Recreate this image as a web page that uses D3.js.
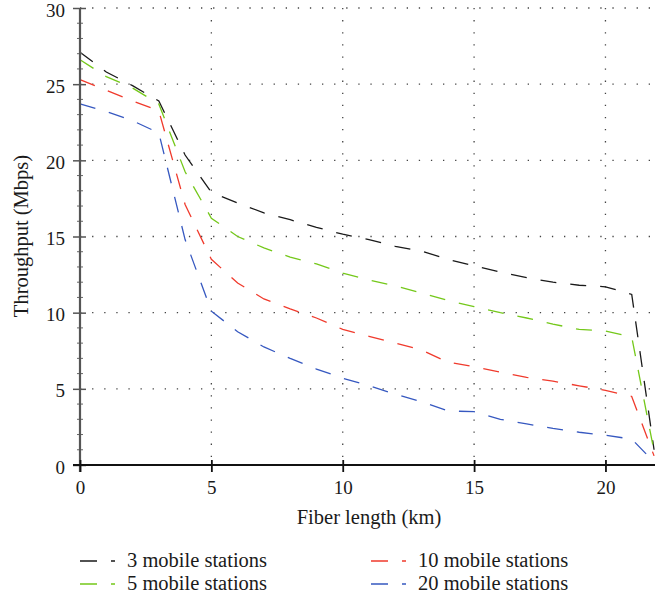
<!DOCTYPE html>
<html>
<head>
<meta charset="utf-8">
<script src="https://cdn.jsdelivr.net/npm/d3@7/dist/d3.min.js"></script>
<style>
  html, body { margin: 0; padding: 0; background: #fff; }
  svg { display: block; }
  text { font-family: "Liberation Serif", "DejaVu Serif", serif; fill: #1a1a1a; }
</style>
</head>
<body>
<svg id="chart" width="655" height="601"></svg>
<script>
// ---- data ----
const fiberKm = [0,1,2,3,4,5,6,7,8,9,10,11,12,13,14,15,16,17,18,19,20,21,21.85];
const seriesNames = ["3 mobile stations", "5 mobile stations", "10 mobile stations", "20 mobile stations"];
const seriesColors = ["#1a1a1a", "#74c81a", "#f03a2c", "#3658c0"];
const ms3  = [27.1, 25.8, 24.9, 23.9, 20.35, 17.9, 17.2, 16.55, 16.1, 15.6, 15.15, 14.8, 14.35, 14.05, 13.5, 13.07, 12.67, 12.3, 12.0, 11.8, 11.7, 11.2, 1.0];
const ms5  = [26.6, 25.5, 24.75, 23.7, 19.25, 16.2, 15.0, 14.25, 13.65, 13.2, 12.6, 12.15, 11.75, 11.3, 10.8, 10.4, 10.0, 9.65, 9.25, 8.9, 8.8, 8.4, 0.9];
const ms10 = [25.3, 24.6, 23.9, 23.25, 17.1, 13.5, 11.95, 10.9, 10.25, 9.65, 8.9, 8.45, 8.0, 7.55, 6.75, 6.45, 6.1, 5.75, 5.5, 5.2, 4.9, 4.5, 0.6];
const ms20 = [23.7, 23.2, 22.6, 21.8, 14.8, 10.1, 8.75, 7.75, 7.0, 6.3, 5.7, 5.2, 4.65, 4.15, 3.55, 3.5, 3.0, 2.7, 2.4, 2.15, 1.95, 1.7, 0.2];
const seriesValues = [ms3, ms5, ms10, ms20];
const xTicks = [0, 5, 10, 15, 20];
const yTicks = [0, 5, 10, 15, 20, 25, 30];
const xTitle = "Fiber length (km)";
const yTitle = "Throughput (Mbps)";

// ---- layout ----
const svg = d3.select("#chart");
const pLeft = 80, pRight = 658, pTop = 8, pBottom = 465;
const x = d3.scaleLinear().domain([0, 22]).range([pLeft, pRight]);
const y = d3.scaleLinear().domain([0, 30]).range([pBottom, pTop]);

// grid (dotted)
const grid = svg.append("g");
grid.selectAll("line.h").data(yTicks.filter(d => d > 0)).enter().append("line")
  .attr("x1", pLeft).attr("x2", 655).attr("y1", d => y(d)).attr("y2", d => y(d))
  .attr("stroke", "#444").attr("stroke-width", 1.3).attr("stroke-dasharray", "1.3,10.8");
grid.selectAll("line.v").data(xTicks.filter(d => d > 0)).enter().append("line")
  .attr("x1", d => x(d)).attr("x2", d => x(d)).attr("y1", pTop).attr("y2", pBottom)
  .attr("stroke", "#444").attr("stroke-width", 1.3).attr("stroke-dasharray", "1.3,10.8");

// lines
const line = d3.line().x(d => x(d[0])).y(d => y(d[1]));
seriesValues.forEach((vals, i) => {
  svg.append("path")
    .datum(fiberKm.map((k, j) => [k, vals[j]]))
    .attr("d", line)
    .attr("fill", "none")
    .attr("stroke", seriesColors[i])
    .attr("stroke-width", 1.3)
    .attr("stroke-dasharray", "16,14");
});

// y axis
const yAxisG = svg.append("g").attr("transform", `translate(${pLeft},0)`)
  .call(d3.axisLeft(y).tickValues(yTicks).tickSize(7).tickPadding(8).tickFormat(d3.format("d")));
yAxisG.select(".domain").remove();
yAxisG.selectAll(".tick line").attr("x1", 6).attr("x2", -7).attr("stroke", "#555").attr("stroke-width", 1.5);
yAxisG.selectAll(".tick text").attr("y", 2).style("font-size", "19px").style("font-family", "Liberation Serif, serif").attr("fill", "#1a1a1a");
// minor ticks
svg.append("g").selectAll("line").data(d3.range(0, 31, 1).filter(d => d % 5 !== 0)).enter().append("line")
  .attr("x1", pLeft - 3).attr("x2", pLeft + 3).attr("y1", d => y(d)).attr("y2", d => y(d))
  .attr("stroke", "#666").attr("stroke-width", 1);
svg.append("line").attr("x1", pLeft).attr("x2", pLeft).attr("y1", pTop).attr("y2", pBottom + 7)
  .attr("stroke", "#555").attr("stroke-width", 2.2);

// x axis
const xAxisG = svg.append("g").attr("transform", `translate(0,${pBottom})`)
  .call(d3.axisBottom(x).tickValues(xTicks).tickSize(7).tickPadding(9).tickFormat(d3.format("d")));
xAxisG.select(".domain").remove();
xAxisG.selectAll(".tick line").attr("y1", -5).attr("y2", 7).attr("stroke", "#111").attr("stroke-width", 1.8);
xAxisG.selectAll(".tick text").style("font-size", "19px").style("font-family", "Liberation Serif, serif").attr("fill", "#1a1a1a");
svg.append("line").attr("x1", pLeft - 7).attr("x2", 655).attr("y1", pBottom).attr("y2", pBottom)
  .attr("stroke", "#111").attr("stroke-width", 2);

// titles
svg.append("text").attr("x", 369).attr("y", 524).attr("text-anchor", "middle")
  .style("font-size", "20.5px").text(xTitle);
svg.append("text").attr("transform", "translate(28,236) rotate(-90)").attr("text-anchor", "middle")
  .style("font-size", "20.5px").text(yTitle);

// legend
const legendPos = [[80, 561], [80, 584], [371, 561], [371, 584]];
seriesNames.forEach((name, i) => {
  const [lx, ly] = legendPos[i];
  svg.append("line").attr("x1", lx).attr("x2", lx + 35).attr("y1", ly).attr("y2", ly)
    .attr("stroke", seriesColors[i]).attr("stroke-width", 1.3).attr("stroke-dasharray", "17,14");
  svg.append("text").attr("x", lx + 47).attr("y", ly + 6).style("font-size", "20.5px").text(name);
});
</script>
</body>
</html>
